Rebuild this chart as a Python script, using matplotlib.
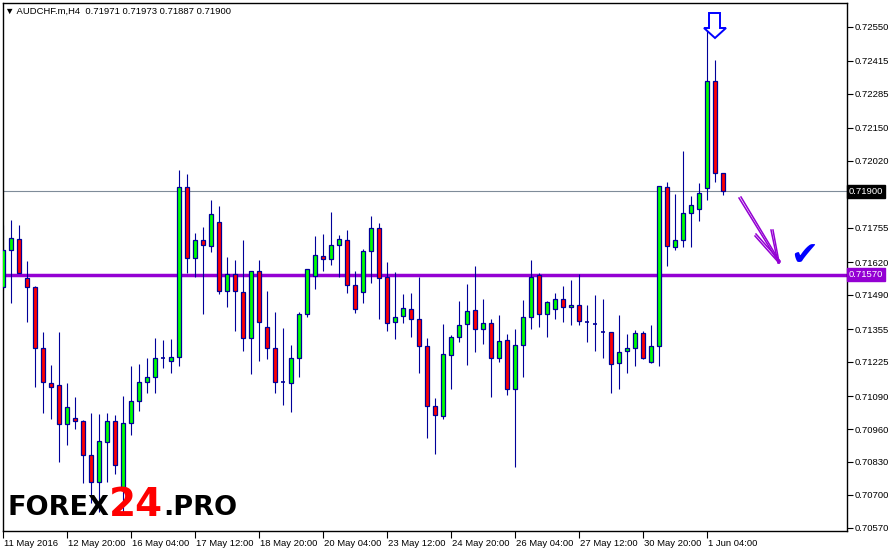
# -*- coding: utf-8 -*-
"""
AUDCHF.m H4 candle chart, MT4 style
"""

import numpy as np
import matplotlib
matplotlib.use('Agg')
import matplotlib.pyplot as plt
import matplotlib.transforms as mtransforms
from matplotlib.patches import Polygon
from matplotlib.lines import Line2D

plt.rcParams['font.family'] = ['Liberation Sans', 'DejaVu Sans']

# OHLC, one row per H4 bar
opens = [0.71523, 0.71668, 0.71710, 0.71556, 0.71520, 0.71279, 0.71141, 0.71133, 0.70979, 0.71002,
         0.70991, 0.70856, 0.70750, 0.70910, 0.70991, 0.70719, 0.70985, 0.71070, 0.71145, 0.71164,
         0.71240, 0.71228, 0.71243, 0.71915, 0.71635, 0.71706, 0.71682, 0.71777, 0.71504, 0.71573,
         0.71500, 0.71319, 0.71583, 0.71362, 0.71279, 0.71147, 0.71141, 0.71240, 0.71413, 0.71564,
         0.71643, 0.71631, 0.71686, 0.71706, 0.71528, 0.71500, 0.71662, 0.71753, 0.71560, 0.71382,
         0.71405, 0.71433, 0.71394, 0.71287, 0.71050, 0.71010, 0.71251, 0.71322, 0.71374, 0.71429,
         0.71354, 0.71378, 0.71240, 0.71311, 0.71117, 0.71291, 0.71402, 0.71568, 0.71413, 0.71433,
         0.71473, 0.71441, 0.71449, 0.71384, 0.71375, 0.71345, 0.71342, 0.71220, 0.71267, 0.71279,
         0.71338, 0.71224, 0.71287, 0.71915, 0.71678, 0.71706, 0.71812, 0.71830, 0.71911, 0.72335,
         0.71971]
highs = [0.71766, 0.71786, 0.71766, 0.71624, 0.71525, 0.71342, 0.71213, 0.71342, 0.71142, 0.71087,
         0.70996, 0.71022, 0.71019, 0.71025, 0.71015, 0.71091, 0.71209, 0.71217, 0.71241, 0.71320,
         0.71312, 0.71316, 0.71984, 0.71968, 0.71733, 0.71760, 0.71865, 0.71841, 0.71640, 0.71628,
         0.71707, 0.71586, 0.71628, 0.71507, 0.71423, 0.71360, 0.71292, 0.71423, 0.71593, 0.71723,
         0.71731, 0.71816, 0.71727, 0.71747, 0.71583, 0.71670, 0.71802, 0.71773, 0.71620, 0.71581,
         0.71494, 0.71498, 0.71560, 0.71319, 0.71081, 0.71375, 0.71330, 0.71466, 0.71533, 0.71604,
         0.71473, 0.71394, 0.71409, 0.71334, 0.71354, 0.71470, 0.71628, 0.71575, 0.71465, 0.71499,
         0.71525, 0.71549, 0.71573, 0.71450, 0.71490, 0.71474, 0.71343, 0.71411, 0.71337, 0.71351,
         0.71347, 0.71371, 0.71921, 0.71937, 0.71889, 0.72059, 0.71881, 0.71932, 0.72537, 0.72418,
         0.71973]
lows = [0.71509, 0.71459, 0.71575, 0.71384, 0.71127, 0.71025, 0.71001, 0.70831, 0.70897, 0.70959,
        0.70746, 0.70668, 0.70633, 0.70752, 0.70782, 0.70620, 0.70936, 0.71032, 0.71101, 0.71101,
        0.71202, 0.71183, 0.71210, 0.71575, 0.71562, 0.71415, 0.71661, 0.71494, 0.71443, 0.71349,
        0.71270, 0.71179, 0.71230, 0.71238, 0.71104, 0.71056, 0.71026, 0.71167, 0.71404, 0.71512,
        0.71586, 0.71607, 0.71562, 0.71499, 0.71420, 0.71459, 0.71538, 0.71394, 0.71349, 0.71317,
        0.71380, 0.71325, 0.71183, 0.70923, 0.70860, 0.70998, 0.71119, 0.71305, 0.71214, 0.71266,
        0.71297, 0.71088, 0.71226, 0.71096, 0.70809, 0.71167, 0.71354, 0.71364, 0.71325, 0.71396,
        0.71382, 0.71370, 0.71370, 0.71305, 0.71270, 0.71242, 0.71104, 0.71119, 0.71183, 0.71210,
        0.71238, 0.71222, 0.71210, 0.71605, 0.71666, 0.71681, 0.71681, 0.71783, 0.71865, 0.71937,
        0.71887]
closes = [0.71668, 0.71714, 0.71578, 0.71520, 0.71279, 0.71145, 0.71127, 0.70979, 0.71046, 0.70991,
          0.70856, 0.70750, 0.70913, 0.70991, 0.70817, 0.70983, 0.71070, 0.71145, 0.71164, 0.71240,
          0.71240, 0.71243, 0.71915, 0.71635, 0.71706, 0.71686, 0.71809, 0.71504, 0.71573, 0.71504,
          0.71319, 0.71583, 0.71382, 0.71279, 0.71147, 0.71147, 0.71240, 0.71413, 0.71591, 0.71647,
          0.71631, 0.71686, 0.71710, 0.71528, 0.71433, 0.71662, 0.71753, 0.71556, 0.71378, 0.71402,
          0.71437, 0.71394, 0.71287, 0.71050, 0.71014, 0.71255, 0.71322, 0.71370, 0.71425, 0.71354,
          0.71378, 0.71240, 0.71307, 0.71117, 0.71291, 0.71402, 0.71560, 0.71413, 0.71461, 0.71473,
          0.71441, 0.71449, 0.71386, 0.71384, 0.71375, 0.71345, 0.71216, 0.71263, 0.71279, 0.71338,
          0.71240, 0.71287, 0.71919, 0.71682, 0.71706, 0.71812, 0.71844, 0.71892, 0.72335, 0.71971,
          0.71900]

# axis labels
time_labels = ['11 May 2016', '12 May 20:00', '16 May 04:00', '17 May 12:00', '18 May 20:00',
               '20 May 04:00', '23 May 12:00', '24 May 20:00', '26 May 04:00', '27 May 12:00',
               '30 May 20:00', '1 Jun 04:00']
label_step = 8
price_ticks = [0.72550, 0.72415, 0.72285, 0.72150, 0.72020, 0.71755, 0.71620, 0.71490,
               0.71355, 0.71225, 0.71090, 0.70960, 0.70830, 0.70700, 0.70570]
bid_price = 0.71900
level_price = 0.71570
header = '\u25bc AUDCHF.m,H4  0.71971 0.71973 0.71887 0.71900'

W, H = 891, 551
EDGE = '#000099'
PURPLE = '#9400D3'


def fp(x, y):
    "image pixel -> figure fraction"
    return (x / W, 1 - y / H)


fig = plt.figure(figsize=(W / 100, H / 100), dpi=100)
ax = fig.add_axes([2.5 / W, 20 / H, 844 / W, 528 / H])

o = np.array(opens)
h = np.array(highs)
l = np.array(lows)
c = np.array(closes)
idx = np.arange(len(o))
up = c > o
down = c < o
flat = c == o

# wicks then bodies
ax.vlines(idx, l, h, color=EDGE, lw=0.8, zorder=2)
ax.bar(idx[up], (c - o)[up], bottom=o[up], width=0.55, color='#00FF00',
       edgecolor=EDGE, lw=0.9, zorder=3)
ax.bar(idx[down], (c - o)[down], bottom=o[down], width=0.55, color='#FF0000',
       edgecolor=EDGE, lw=0.9, zorder=3)
ax.hlines(o[flat], idx[flat] - 0.3, idx[flat] + 0.3, color=EDGE, lw=1.2, zorder=3)

# bid line and level line
ax.axhline(bid_price, color='#7F8C99', lw=0.8, zorder=1)
ax.axhline(level_price, color=PURPLE, lw=2.5, zorder=1)

ax.set_xlim(-0.06, 105.44)
ax.set_ylim(0.70557, 0.72644)

# axes / ticks
ax.yaxis.tick_right()
ax.set_yticks(price_ticks)
ax.set_yticklabels(['%.5f' % v for v in price_ticks])
ax.tick_params(axis='y', direction='out', length=4, width=0.8, labelsize=6.8, pad=2)
ax.set_xticks(idx[::label_step])
ax.set_xticklabels(time_labels)
ax.tick_params(axis='x', direction='out', length=5, width=0.8, labelsize=6.8, pad=1)
shift = mtransforms.ScaledTranslation(0.015, 0, fig.dpi_scale_trans)
for lab in ax.get_xticklabels():
    lab.set_horizontalalignment('left')
    lab.set_transform(lab.get_transform() + shift)
for sp in ax.spines.values():
    sp.set_linewidth(1.0)
    sp.set_color('black')

# price boxes on the right axis
trans = mtransforms.blended_transform_factory(ax.transAxes, ax.transData)
ax.text(1.0 + 2 / 844, bid_price, '%.5f' % bid_price, transform=trans, ha='left', va='center',
        color='white', fontsize=6.8, zorder=5,
        bbox=dict(boxstyle='square,pad=0.2', fc='black', ec='black'))
ax.text(1.0 + 2 / 844, level_price, '%.5f' % level_price, transform=trans, ha='left', va='center',
        color='white', fontsize=6.8, zorder=5,
        bbox=dict(boxstyle='square,pad=0.2', fc=PURPLE, ec=PURPLE))

# header
fig.text(5 / W, 1 - 11 / H, header, fontsize=6.8, va='center', ha='left',
         family=['Liberation Sans', 'DejaVu Sans'])

# hollow down arrow over the top
arrow = [(709, 13), (720, 13), (720, 28), (726, 28), (715, 38), (704, 28), (709, 28)]
fig.add_artist(Polygon([fp(*p) for p in arrow], closed=True, transform=fig.transFigure,
                       fc='white', ec='#0000FF', lw=1.4, zorder=6))

# hand-drawn purple arrow
strokes = [[(739, 198), (779, 263)], [(741, 197), (780, 262)],
           [(755, 236), (779, 263)], [(756, 234), (780, 261)],
           [(771, 230), (778, 263)], [(773, 230), (779, 262)]]
for s in strokes:
    xs, ys = zip(*[fp(*p) for p in s])
    fig.add_artist(Line2D(xs, ys, transform=fig.transFigure, color=PURPLE, lw=1.1, zorder=6))

# check mark
x, y = fp(804, 255)
fig.text(x, y, '\u2714', color='#0000FF', fontsize=24, ha='center', va='center',
         family='DejaVu Sans', zorder=6)

# logo
x, y = fp(8, 515)
fig.text(x, y, 'FOREX', fontsize=19.5, fontweight='heavy', family='DejaVu Sans',
         color='black', va='baseline', ha='left', zorder=6)
x, y = fp(109, 516)
fig.text(x, y, '24', fontsize=28, fontweight='heavy', family='DejaVu Sans',
         color='#FF0000', va='baseline', ha='left', zorder=6)
x, y = fp(163, 515)
fig.text(x, y, '.PRO', fontsize=19.5, fontweight='heavy', family='DejaVu Sans',
         color='black', va='baseline', ha='left', zorder=6)

fig.savefig('out.png', dpi=100, facecolor='white')
